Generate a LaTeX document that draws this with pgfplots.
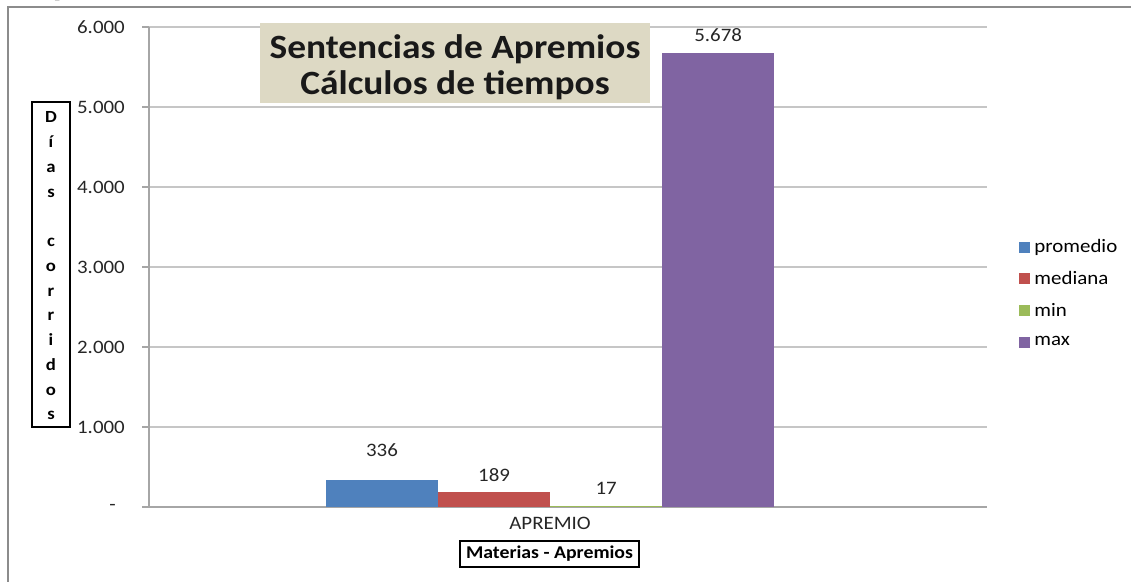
\documentclass[border=0pt]{standalone}
\usepackage{fontspec}
\setmainfont{Carlito}[FakeStretch=1.1]
\usepackage{pgfplots}
\pgfplotsset{compat=1.18}
\definecolor{cblue}{HTML}{4F81BD}
\definecolor{cred}{HTML}{C0504D}
\definecolor{cgreen}{HTML}{9BBB59}
\definecolor{cpurple}{HTML}{8064A2}
\definecolor{tbox}{HTML}{DDD9C4}
\definecolor{gridc}{HTML}{C6C6C6}
\definecolor{axc}{HTML}{A6A6A6}
\definecolor{borderc}{HTML}{8C8C8C}
\pgfplotsset{lg/.style={legend image code/.code={\fill[#1] (0pt,-5pt) rectangle (10pt,5pt);}}}
\begin{document}
\begin{tikzpicture}[x=1pt,y=1pt]
\useasboundingbox (0,0) rectangle (1131,581);
\clip (0,0) rectangle (1131,581);
\node[anchor=base west, inner sep=0pt, font=\fontsize{33}{40}\selectfont\bfseries] at (7,585) {(Expresado en días corridos)};
\draw[color=borderc, line width=1.5pt] (8,-2) -- (8,574) -- (1135,574);
\begin{axis}[
  at={(149pt,74pt)}, anchor=south west, scale only axis,
  width=838pt, height=480pt,
  xmin=-3.58, xmax=3.90, ymin=0, ymax=6000,
  axis lines=left, axis line style={-, draw=axc, line width=1.3pt},
  ytick={0,1000,...,6000},
  yticklabels={{-\kern9pt},1.000,2.000,3.000,4.000,5.000,6.000},
  ymajorgrids, major grid style={draw=gridc, line width=1.3pt},
  tick align=outside, major tick length=7pt,
  ytick style={draw=axc, line width=1.3pt},
  xtick={0}, xticklabels={APREMIO}, xtick style={draw=none},
  tick label style={font=\fontsize{19}{22}\selectfont, text=black!85},
  yticklabel style={anchor=east, inner sep=0pt, xshift=-17pt},
  xticklabel style={anchor=north, inner sep=0pt, yshift=-3pt},
  legend style={at={(axis description cs:1.038,0.443)}, anchor=west, draw=none, fill=none,
    font=\fontsize{19}{22}\selectfont, inner sep=0pt, row sep=0pt, column sep=5pt,
    cells={anchor=west}, nodes={inner sep=0pt, minimum height=31.7pt}},
  clip=false,
]
\addplot[ybar, bar width=1, bar shift=0pt, fill=cblue, draw=none, forget plot,
  nodes near coords={336}, nodes near coords style={anchor=center, yshift=30pt, font=\fontsize{19}{22}\selectfont, text=black!85}]
  coordinates {(-1.5,336)};
\addplot[ybar, bar width=1, bar shift=0pt, fill=cred, draw=none, forget plot,
  nodes near coords={189}, nodes near coords style={anchor=center, yshift=17pt, font=\fontsize{19}{22}\selectfont, text=black!85}]
  coordinates {(-0.5,189)};
\addplot[ybar, bar width=1, bar shift=0pt, fill=cgreen, draw=none, forget plot,
  nodes near coords={17}, nodes near coords style={anchor=center, yshift=17pt, font=\fontsize{19}{22}\selectfont, text=black!85}]
  coordinates {(0.5,17)};
\addplot[ybar, bar width=1, bar shift=0pt, fill=cpurple, draw=none, forget plot,
  nodes near coords={5.678}, nodes near coords style={anchor=center, yshift=18pt, font=\fontsize{19}{22}\selectfont, text=black!85}]
  coordinates {(1.5,5678)};
\addlegendimage{lg=cblue}\addlegendentry{promedio}
\addlegendimage{lg=cred}\addlegendentry{mediana}
\addlegendimage{lg=cgreen}\addlegendentry{min}
\addlegendimage{lg=cpurple}\addlegendentry{max}
\end{axis}
% title box
\fill[tbox] (260,558) rectangle (650,478);
\node[align=center, inner sep=0pt, font=\fontsize{34}{36}\selectfont\bfseries, text=black!90] at (455,514) {Sentencias de Apremios\\Cálculos de tiempos};
% y label
\draw[black, line width=1.2pt] (32,479) rectangle (70,154);
\node[align=center, inner sep=0pt, font=\fontsize{17}{24.75}\selectfont\bfseries] at (51,315) {D\\í\\a\\s\\\strut\\c\\o\\r\\r\\i\\d\\o\\s};
% x label
\node[draw=black, line width=1.2pt, minimum width=179pt, minimum height=26pt, inner sep=0pt, font=\fontsize{18}{20}\selectfont\bfseries] at (549.5,27) {Materias - Apremios};
\end{tikzpicture}
\end{document}
